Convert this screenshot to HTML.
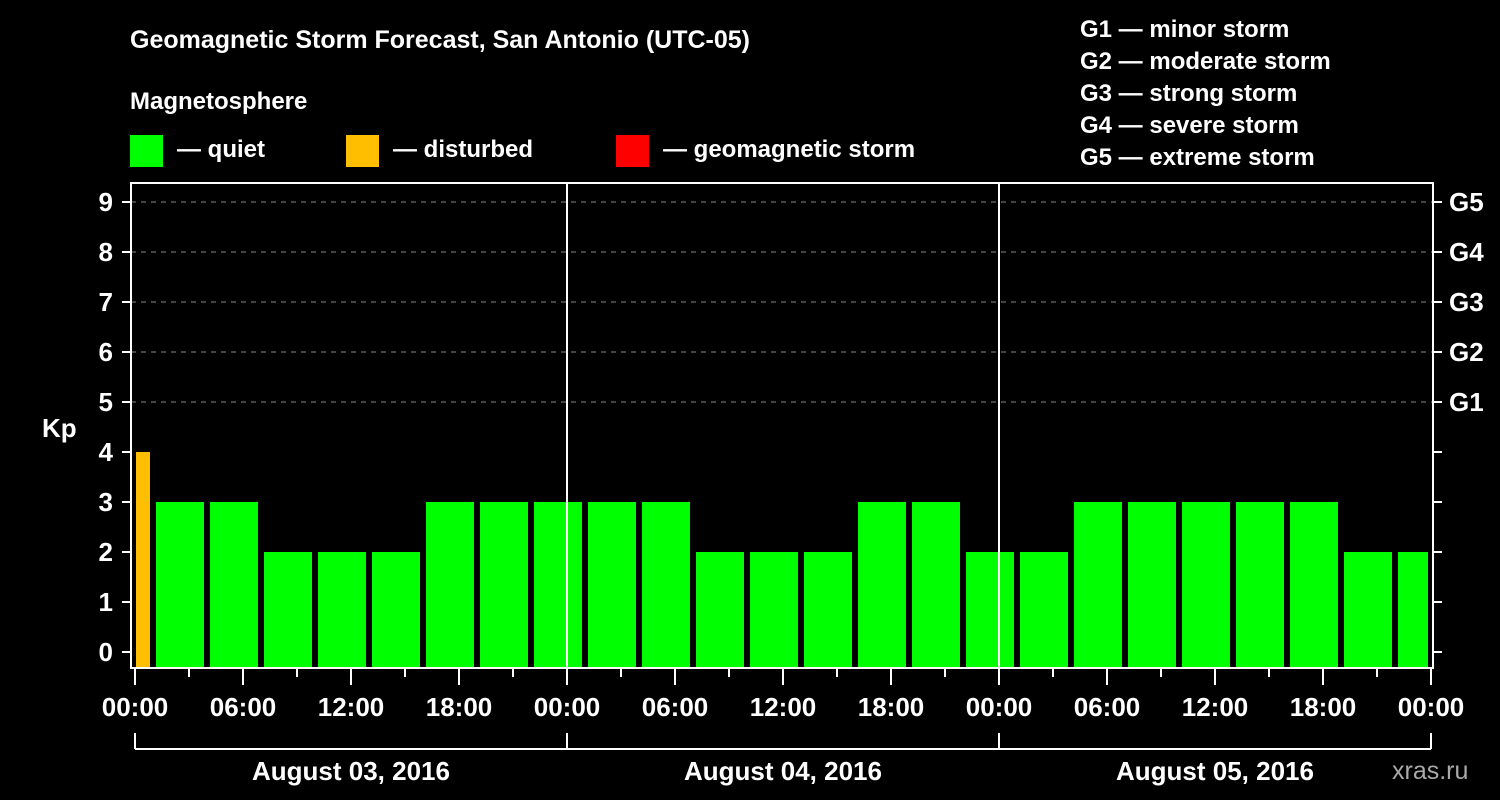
<!DOCTYPE html>
<html><head><meta charset="utf-8"><style>
html,body{margin:0;padding:0;background:#000;}
svg{display:block;font-family:"Liberation Sans",sans-serif;font-weight:bold;}
</style></head><body>
<svg id="chart" width="1500" height="800" viewBox="0 0 1500 800" xmlns="http://www.w3.org/2000/svg">
<rect width="1500" height="800" fill="#000"/>
<text x="130" y="48" fill="#fff" font-size="25">Geomagnetic Storm Forecast, San Antonio (UTC-05)</text>
<text x="130" y="109" fill="#fff" font-size="24">Magnetosphere</text>
<g><rect x="130" y="135" width="33" height="32" fill="#00ff00"/><text x="177" y="157" fill="#fff" font-size="24">— quiet</text></g>
<g><rect x="346" y="135" width="33" height="32" fill="#ffbf00"/><text x="393" y="157" fill="#fff" font-size="24">— disturbed</text></g>
<g><rect x="616" y="135" width="33" height="32" fill="#ff0000"/><text x="663" y="157" fill="#fff" font-size="24">— geomagnetic storm</text></g>
<g fill="#fff" font-size="24">
<text x="1080" y="37">G1 — minor storm</text>
<text x="1080" y="69">G2 — moderate storm</text>
<text x="1080" y="101">G3 — strong storm</text>
<text x="1080" y="133">G4 — severe storm</text>
<text x="1080" y="165">G5 — extreme storm</text>
</g>
<text x="42" y="437" fill="#fff" font-size="26">Kp</text>
<text x="1392" y="779" fill="#aaa" font-size="25" font-weight="normal">xras.ru</text>
<g id="grid"></g>
<g id="bars"></g>
<g id="axes"></g>
</svg>
<script>
const kpValues = [4,3,3,2,2,2,3,3,3,3,3,2,2,2,3,3,2,2,3,3,3,3,3,2,2];
const yTicks = [0,1,2,3,4,5,6,7,8,9];
const gLabels = ["G1","G2","G3","G4","G5"];
const xLabels = ["00:00","06:00","12:00","18:00","00:00","06:00","12:00","18:00","00:00","06:00","12:00","18:00","00:00"];
const dayLabels = ["August 03, 2016","August 04, 2016","August 05, 2016"];
const NS="http://www.w3.org/2000/svg";
const x0=135, pxH=18, plotL=131, plotR=1433, plotT=183, plotB=668;
const xs=h=>x0+h*pxH;
const ys=v=>652-50*v;
function mk(tag,attrs,parent){const e=document.createElementNS(NS,tag);for(const k in attrs)e.setAttribute(k,attrs[k]);parent.appendChild(e);return e;}
const grid=document.getElementById('grid'),bars=document.getElementById('bars'),axes=document.getElementById('axes');
// grid lines
for(const v of yTicks){ if(v>=5){const l=mk('line',{x1:plotL,x2:plotR,y1:ys(v),y2:ys(v),stroke:'#888','stroke-width':1,'stroke-dasharray':'5,5'},grid);

}}
// bars: 3h intervals starting at local hour 1 (UTC boundaries), first partial 0-1h
kpValues.forEach((v,i)=>{
 let s=i===0?0:1+3*(i-1), e=Math.min(72,i===0?1:s+3);
 let xa=xs(s)+(i===0?1:3), xb=xs(e)-3;
 const color=v>=5?'#ff0000':(v>=4?'#ffbf00':'#00ff00');
 const r=mk('rect',{x:xa,y:ys(v),width:xb-xa,height:plotB-ys(v),fill:color},bars);
 
 
});
// frame
const f=mk('rect',{x:plotL,y:plotT,width:plotR-plotL,height:plotB-plotT,fill:'none',stroke:'#fff','stroke-width':2},axes);


[24,48].forEach(h=>{const l=mk('line',{x1:xs(h),x2:xs(h),y1:plotT,y2:plotB,stroke:'#fff','stroke-width':2},axes);

});
// y ticks & labels
yTicks.forEach(v=>{
 mk('line',{x1:122,x2:plotL,y1:ys(v),y2:ys(v),stroke:'#fff','stroke-width':2},axes);
 mk('line',{x1:plotR,x2:1442,y1:ys(v),y2:ys(v),stroke:'#fff','stroke-width':2},axes);
 const t=mk('text',{x:113,y:ys(v)+9,fill:'#fff','font-size':26,'text-anchor':'end'},axes);t.textContent=v;
 
 
 if(v>=5){const g=mk('text',{x:1449,y:ys(v)+9,fill:'#fff','font-size':26},axes);g.textContent=gLabels[v-5];
 
 }
});
// x ticks
for(let h=0;h<=72;h+=3){const major=h%6===0;mk('line',{x1:xs(h),x2:xs(h),y1:plotB,y2:plotB+(major?17:9),stroke:'#fff','stroke-width':2},axes);}
xLabels.forEach((s,i)=>{const t=mk('text',{x:xs(i*6),y:716,fill:'#fff','font-size':26,'text-anchor':'middle'},axes);t.textContent=s;
 
 });
// day bracket
mk('line',{x1:xs(0),x2:xs(72),y1:749,y2:749,stroke:'#fff','stroke-width':2},axes);
[0,24,48,72].forEach(h=>mk('line',{x1:xs(h),x2:xs(h),y1:733,y2:749,stroke:'#fff','stroke-width':2},axes));
dayLabels.forEach((s,i)=>{const t=mk('text',{x:xs(i*24+12),y:780,fill:'#fff','font-size':26,'text-anchor':'middle'},axes);t.textContent=s;
 
 });
</script>
</body></html>
